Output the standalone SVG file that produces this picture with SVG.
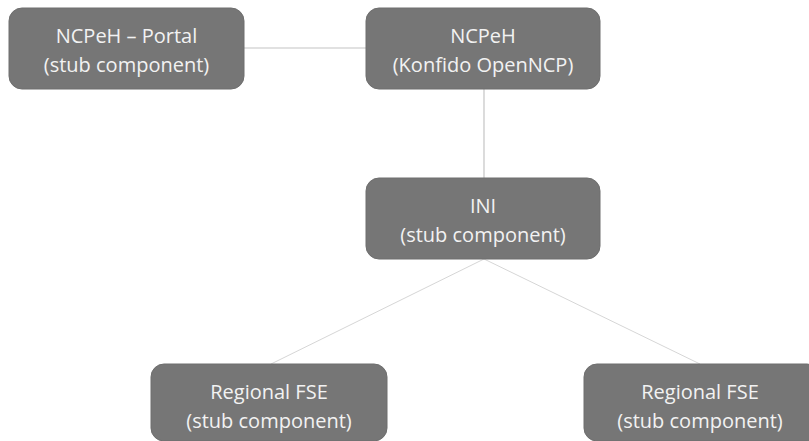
<svg xmlns="http://www.w3.org/2000/svg" width="809" height="441" viewBox="0 0 809 441">
<style>
.box{fill:#767676;stroke:#6e6e6e;stroke-width:1}
.t{font-family:"Open Sans","Noto Sans",sans-serif;font-size:20px;fill:#f2f2f2;text-anchor:middle}
.c{stroke:#c4c4c4;stroke-width:1.2;fill:none}
.c2{stroke:#d6d6d6;stroke-width:1;fill:none}
</style>
<rect width="809" height="441" fill="#ffffff"/>
<g id="connectors">
<line class="c" x1="244" y1="48" x2="366" y2="48"/>
<line class="c" x1="484" y1="89" x2="484" y2="178"/>
<line class="c2" x1="484" y1="259" x2="271" y2="364"/>
<line class="c2" x1="484" y1="259" x2="700" y2="364"/>
</g>
<g id="portal">
<rect class="box" x="9" y="8" width="235" height="81" rx="13"/>
<text class="t" x="126.5" y="43">NCPeH – Portal</text>
<text class="t" x="126.5" y="72">(stub component)</text>
</g>
<g id="ncpeh">
<rect class="box" x="366" y="8" width="234" height="81" rx="13"/>
<text class="t" x="483" y="43">NCPeH</text>
<text class="t" x="483" y="72">(Konfido OpenNCP)</text>
</g>
<g id="ini">
<rect class="box" x="366" y="178" width="234" height="81" rx="13"/>
<text class="t" x="483" y="213">INI</text>
<text class="t" x="483" y="242">(stub component)</text>
</g>
<g id="fse1">
<rect class="box" x="151" y="364" width="236" height="77" rx="13"/>
<text class="t" x="269" y="399">Regional FSE</text>
<text class="t" x="269" y="428">(stub component)</text>
</g>
<g id="fse2">
<rect class="box" x="584" y="364" width="236" height="77" rx="13"/>
<text class="t" x="700" y="399">Regional FSE</text>
<text class="t" x="700" y="428">(stub component)</text>
</g>
</svg>
